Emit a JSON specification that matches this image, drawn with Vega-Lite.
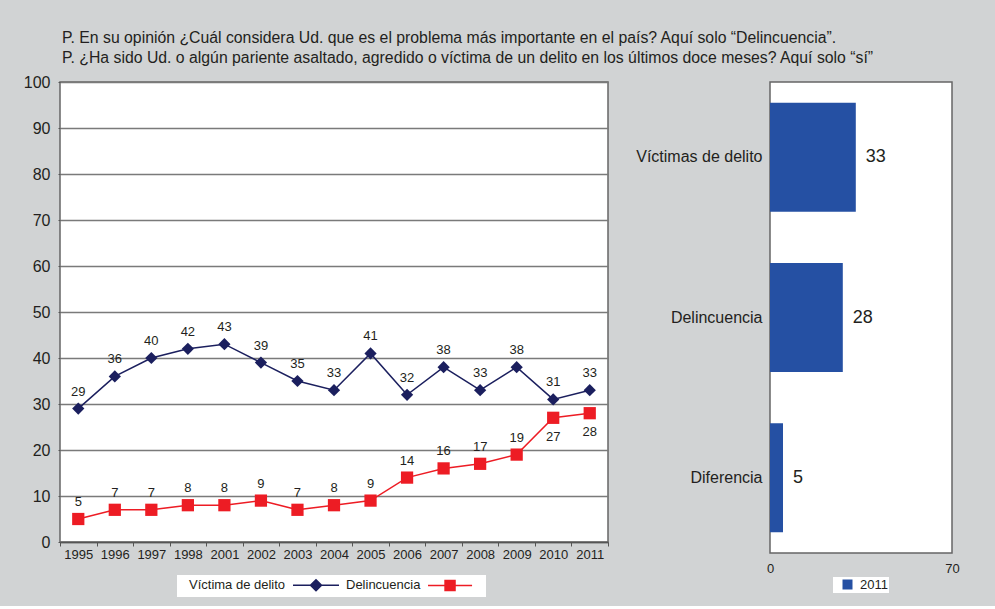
{
  "$schema": "https://vega.github.io/schema/vega-lite/v6.json",
  "background": "#d1d3d4",
  "padding": {"left": 22, "top": 29, "right": 35, "bottom": 8},
  "config": {
    "font": "Liberation Sans",
    "view": {"fill": "white", "stroke": "#666666", "strokeWidth": 1.5},
    "axis": {"labelFont": "Liberation Sans", "labelColor": "#231f20", "domain": false, "ticks": false, "grid": false, "title": null},
    "legend": {"labelFont": "Liberation Sans", "labelColor": "#231f20", "labelFontSize": 13, "fillColor": "white", "title": null, "direction": "horizontal"}
  },
  "datasets": {
    "serie": [
      {"anio": "1995", "serie": "Víctima de delito", "valor": 29},
      {"anio": "1996", "serie": "Víctima de delito", "valor": 36},
      {"anio": "1997", "serie": "Víctima de delito", "valor": 40},
      {"anio": "1998", "serie": "Víctima de delito", "valor": 42},
      {"anio": "2001", "serie": "Víctima de delito", "valor": 43},
      {"anio": "2002", "serie": "Víctima de delito", "valor": 39},
      {"anio": "2003", "serie": "Víctima de delito", "valor": 35},
      {"anio": "2004", "serie": "Víctima de delito", "valor": 33},
      {"anio": "2005", "serie": "Víctima de delito", "valor": 41},
      {"anio": "2006", "serie": "Víctima de delito", "valor": 32},
      {"anio": "2007", "serie": "Víctima de delito", "valor": 38},
      {"anio": "2008", "serie": "Víctima de delito", "valor": 33},
      {"anio": "2009", "serie": "Víctima de delito", "valor": 38},
      {"anio": "2010", "serie": "Víctima de delito", "valor": 31},
      {"anio": "2011", "serie": "Víctima de delito", "valor": 33},
      {"anio": "1995", "serie": "Delincuencia", "valor": 5},
      {"anio": "1996", "serie": "Delincuencia", "valor": 7},
      {"anio": "1997", "serie": "Delincuencia", "valor": 7},
      {"anio": "1998", "serie": "Delincuencia", "valor": 8},
      {"anio": "2001", "serie": "Delincuencia", "valor": 8},
      {"anio": "2002", "serie": "Delincuencia", "valor": 9},
      {"anio": "2003", "serie": "Delincuencia", "valor": 7},
      {"anio": "2004", "serie": "Delincuencia", "valor": 8},
      {"anio": "2005", "serie": "Delincuencia", "valor": 9},
      {"anio": "2006", "serie": "Delincuencia", "valor": 14},
      {"anio": "2007", "serie": "Delincuencia", "valor": 16},
      {"anio": "2008", "serie": "Delincuencia", "valor": 17},
      {"anio": "2009", "serie": "Delincuencia", "valor": 19},
      {"anio": "2010", "serie": "Delincuencia", "valor": 27},
      {"anio": "2011", "serie": "Delincuencia", "valor": 28}
    ],
    "barras": [
      {"categoria": "Víctimas de delito", "valor": 33, "anio": "2011"},
      {"categoria": "Delincuencia", "valor": 28, "anio": "2011"},
      {"categoria": "Diferencia", "valor": 5, "anio": "2011"}
    ]
  },
  "bounds": "flush",
  "spacing": 162,
  "resolve": {"scale": {"color": "independent", "x": "independent", "y": "independent"}, "legend": {"color": "independent"}},
  "hconcat": [
    {
      "width": 548,
      "height": 460,
      "title": {
        "text": ["P. En su opinión ¿Cuál considera Ud. que es el problema más importante en el país? Aquí solo “Delincuencia”.", "P. ¿Ha sido Ud. o algún pariente asaltado, agredido o víctima de un delito en los últimos doce meses? Aquí solo “sí”"],
        "anchor": "start",
        "frame": "group",
        "fontSize": 15.8,
        "fontWeight": "normal",
        "color": "#231f20",
        "offset": 7,
        "lineHeight": 20,
        "dx": 2
      },
      "data": {"name": "serie"},
      "encoding": {
        "x": {
          "field": "anio", "type": "ordinal", "sort": null,
          "scale": {"type": "band", "paddingInner": 0, "paddingOuter": 0},
          "axis": {"labelAngle": 0, "labelFontSize": 13, "ticks": true, "tickBand": "extent", "tickSize": 4, "tickColor": "#555555", "domain": true, "domainColor": "#555555", "domainWidth": 1.5, "labelPadding": 2}
        },
        "y": {
          "field": "valor", "type": "quantitative",
          "scale": {"domain": [0, 100], "nice": false},
          "axis": {"values": [0, 10, 20, 30, 40, 50, 60, 70, 80, 90, 100], "grid": true, "gridColor": "#7a7a7a", "gridWidth": 1.5, "labelFontSize": 16, "labelPadding": 8, "ticks": true, "tickSize": 2, "tickColor": "#555555"}
        },
        "color": {
          "field": "serie", "type": "nominal",
          "scale": {"domain": ["Víctima de delito", "Delincuencia"], "range": ["#1b1f5e", "#ed1c24"]},
          "legend": {
            "orient": "none",
            "legendX": 117,
            "legendY": 493,
            "padding": 3,
            "symbolSize": 144,
            "symbolStrokeWidth": 1.5,
            "columnPadding": 0,
            "labelOffset": 0,
            "encode": {
              "symbols": {
                "update": {
                  "shape": {"signal": "datum.value === 'Delincuencia' ? 'M13.17,0H20.51M16.01,-0.84H17.67V0.84H16.01ZM21.67,0L21.67,0' : 'M17.67,0H25.33M21.5,-0.92L22.42,0L21.5,0.92L20.58,0Z'"},
                  "fill": {"signal": "datum.value === 'Delincuencia' ? '#ed1c24' : '#1b1f5e'"},
                  "stroke": {"signal": "datum.value === 'Delincuencia' ? '#ed1c24' : '#1b1f5e'"},
                  "opacity": {"value": 1},
                  "fillOpacity": {"value": 1},
                  "strokeOpacity": {"value": 1}
                }
              },
              "labels": {
                "update": {
                  "align": {"value": "left"},
                  "dx": {"signal": "datum.value === 'Delincuencia' ? -10 : -5"}
                }
              }
            }
          }
        }
      },
      "layer": [
        {"mark": {"type": "line", "strokeWidth": 1.5}},
        {
          "mark": {"type": "point", "filled": true, "opacity": 1},
          "encoding": {
            "shape": {"field": "serie", "type": "nominal", "scale": {"domain": ["Víctima de delito", "Delincuencia"], "range": ["diamond", "square"]}, "legend": null},
            "size": {"value": 150}
          }
        },
        {
          "transform": [{"filter": "!(datum.serie === 'Delincuencia' && (datum.anio === '2010' || datum.anio === '2011'))"}],
          "mark": {"type": "text", "dy": -17, "fontSize": 13},
          "encoding": {"text": {"field": "valor", "type": "quantitative"}, "color": {"value": "#231f20"}}
        },
        {
          "transform": [{"filter": "datum.serie === 'Delincuencia' && (datum.anio === '2010' || datum.anio === '2011')"}],
          "mark": {"type": "text", "dy": 19, "fontSize": 13},
          "encoding": {"text": {"field": "valor", "type": "quantitative"}, "color": {"value": "#231f20"}}
        }
      ]
    },
    {
      "width": 182,
      "height": 471,
      "data": {"name": "barras"},
      "encoding": {
        "y": {
          "field": "categoria", "type": "nominal", "sort": null,
          "scale": {"paddingInner": 0.32, "paddingOuter": 0.13},
          "axis": {"labelFontSize": 16, "labelPadding": 8}
        },
        "x": {
          "field": "valor", "type": "quantitative",
          "scale": {"domain": [0, 70], "nice": false},
          "axis": {"values": [0, 70], "labelFontSize": 13, "labelPadding": 9, "labelFlush": false}
        }
      },
      "layer": [
        {
          "mark": {"type": "bar"},
          "encoding": {
            "color": {
              "field": "anio", "type": "nominal", "scale": {"range": ["#2550a3"]},
              "legend": {
                "orient": "none", "legendX": 63, "legendY": 495, "padding": 1, "symbolSize": 100, "labelOffset": 13,
                "encode": {"symbols": {"update": {"shape": {"value": "M0.4,-1H2.4V1H0.4Z"}, "fillOpacity": {"value": 1}, "strokeWidth": {"value": 0}}}}
              }
            }
          }
        },
        {
          "mark": {"type": "text", "align": "left", "dx": 10, "fontSize": 18, "color": "#231f20"},
          "encoding": {"text": {"field": "valor", "type": "quantitative"}}
        }
      ]
    }
  ]
}
